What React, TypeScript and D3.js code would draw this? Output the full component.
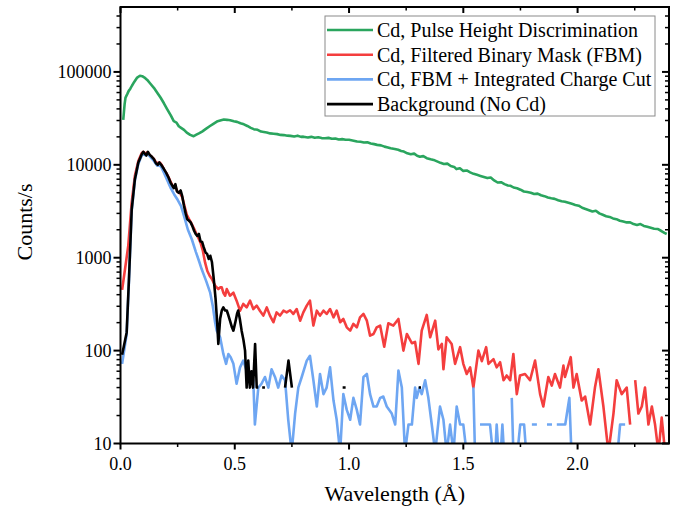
import React from "react";
import * as d3 from "d3";

// Cd, Pulse Height Discrimination
const greenWl = [0.012, 0.018, 0.022, 0.03, 0.036, 0.043, 0.05, 0.06, 0.073, 0.085, 0.095, 0.105, 0.117, 0.13, 0.146, 0.16, 0.175, 0.19, 0.204, 0.22, 0.233, 0.245, 0.255, 0.265, 0.278, 0.29, 0.305, 0.32, 0.33, 0.343, 0.357, 0.372, 0.39, 0.408, 0.425, 0.44, 0.452, 0.466, 0.48, 0.496, 0.51, 0.525, 0.54, 0.555, 0.57, 0.583, 0.6, 0.615, 0.627, 0.64, 0.655, 0.67, 0.686, 0.7, 0.715, 0.73, 0.744, 0.76, 0.775, 0.79, 0.8, 0.82, 0.835, 0.85, 0.865, 0.88, 0.895, 0.91, 0.925, 0.94, 0.955, 0.97, 0.985, 1.0, 1.02, 1.035, 1.05, 1.065, 1.08, 1.095, 1.11, 1.123, 1.14, 1.155, 1.17, 1.182, 1.2, 1.215, 1.228, 1.24, 1.255, 1.27, 1.285, 1.298, 1.31, 1.325, 1.34, 1.357, 1.37, 1.385, 1.4, 1.415, 1.43, 1.445, 1.46, 1.47, 1.485, 1.5, 1.515, 1.53, 1.545, 1.56, 1.575, 1.59, 1.605, 1.62, 1.635, 1.65, 1.665, 1.68, 1.695, 1.707, 1.72, 1.735, 1.75, 1.765, 1.78, 1.795, 1.81, 1.825, 1.84, 1.855, 1.87, 1.885, 1.9, 1.915, 1.93, 1.945, 1.96, 1.975, 1.99, 2.005, 2.02, 2.035, 2.05, 2.065, 2.08, 2.095, 2.11, 2.125, 2.14, 2.155, 2.17, 2.185, 2.2, 2.215, 2.23, 2.245, 2.26, 2.275, 2.29, 2.305, 2.32, 2.335, 2.35, 2.365, 2.38, 2.39];
const greenCounts = [30500, 45000, 53000, 58000, 62500, 66000, 71000, 78000, 87000, 91000, 90000, 87000, 82000, 75000, 67500, 60000, 53000, 46000, 39800, 34000, 29500, 28500, 26000, 25000, 23800, 22200, 21000, 20300, 21000, 21800, 22800, 24200, 26000, 27800, 29500, 30200, 30700, 30500, 30200, 29500, 29000, 28000, 27300, 26200, 25000, 24200, 23800, 22800, 22600, 22300, 21800, 21600, 21400, 21000, 20900, 20600, 20500, 20200, 20600, 20000, 20100, 19700, 20000, 19600, 19800, 19400, 19300, 19500, 19100, 19200, 18700, 18900, 18600, 18600, 18200, 17800, 17700, 17400, 17500, 17000, 16700, 16400, 16200, 15700, 15400, 15100, 14800, 14500, 14100, 13900, 13300, 13000, 13200, 12500, 12200, 12400, 11800, 11500, 11300, 10900, 10500, 10200, 10300, 9700, 9500, 9000, 9200, 8600, 8700, 8300, 8000, 7800, 7600, 7400, 7200, 7300, 6800, 6450, 6500, 6200, 6000, 5950, 5700, 5600, 5400, 5160, 5100, 5000, 4850, 4900, 4700, 4600, 4450, 4370, 4300, 4150, 4050, 4000, 3900, 3800, 3700, 3630, 3450, 3350, 3250, 3150, 3200, 3000, 2900, 2800, 2750, 2650, 2600, 2500, 2450, 2400, 2400, 2300, 2250, 2300, 2200, 2150, 2100, 2050, 2040, 1950, 1850, 1800];

// Cd, Filtered Binary Mask (FBM)
const redWl = [0.007, 0.02, 0.034, 0.049, 0.063, 0.078, 0.093, 0.1, 0.108, 0.117, 0.127, 0.137, 0.146, 0.155, 0.163, 0.172, 0.18, 0.19, 0.2, 0.21, 0.22, 0.23, 0.24, 0.25, 0.26, 0.27, 0.28, 0.29, 0.3, 0.31, 0.32, 0.33, 0.34, 0.35, 0.36, 0.37, 0.38, 0.39, 0.4, 0.414, 0.428, 0.436, 0.443, 0.45, 0.458, 0.465, 0.479, 0.494, 0.508, 0.523, 0.537, 0.552, 0.567, 0.581, 0.596, 0.61, 0.625, 0.64, 0.654, 0.669, 0.683, 0.698, 0.713, 0.727, 0.742, 0.756, 0.771, 0.786, 0.8, 0.815, 0.829, 0.844, 0.859, 0.873, 0.888, 0.902, 0.917, 0.932, 0.946, 0.961, 0.975, 0.99, 1.005, 1.019, 1.034, 1.048, 1.063, 1.078, 1.092, 1.107, 1.121, 1.136, 1.154, 1.172, 1.194, 1.216, 1.238, 1.253, 1.275, 1.289, 1.304, 1.318, 1.34, 1.355, 1.377, 1.391, 1.406, 1.413, 1.427, 1.449, 1.464, 1.486, 1.5, 1.515, 1.53, 1.544, 1.566, 1.581, 1.6, 1.61, 1.632, 1.646, 1.661, 1.676, 1.69, 1.705, 1.719, 1.734, 1.748, 1.77, 1.792, 1.814, 1.836, 1.85, 1.872, 1.887, 1.901, 1.923, 1.938, 1.945, 1.97, 1.982, 1.996, 2.018, 2.033, 2.055, 2.076, 2.091, 2.113, 2.135, 2.157, 2.171, 2.193, 2.215, 2.23, 2.241, 2.252, 2.266, 2.281, 2.295, 2.31, 2.325, 2.339, 2.354, 2.368, 2.383];
const redCounts = [450, 760, 1350, 3950, 7600, 11000, 13400, 13800, 13200, 13600, 12700, 12200, 11600, 10600, 10400, 10600, 10000, 9000, 8200, 7400, 6500, 5800, 5800, 5100, 5000, 4500, 3600, 2900, 2600, 2350, 2100, 1850, 1650, 1450, 1200, 890, 720, 640, 590, 500, 460, 479, 480, 420, 390, 460, 390, 420, 345, 269, 318, 292, 345, 280, 305, 269, 238, 292, 238, 202, 258, 238, 269, 258, 272, 248, 280, 210, 258, 305, 345, 186, 269, 238, 269, 248, 280, 228, 269, 202, 219, 178, 164, 194, 178, 228, 248, 210, 145, 151, 178, 186, 110, 197, 186, 219, 100, 151, 120, 124, 72, 164, 242, 139, 210, 103, 118, 63, 139, 118, 72, 109, 72, 56, 66, 40, 100, 77, 109, 72, 81, 66, 75, 48, 54, 48, 92, 34, 54, 56, 48, 78, 34, 25, 52, 42, 56, 40, 69, 52, 85, 40, 56, 29, 32, 16, 40, 63, 25, 8, 21, 48, 34, 40, 16, null, 48, 21, 25, 40, 16, 25, 16, 8, 19, 8];

// Cd, FBM + Integrated Charge Cut
const blueWl = [0.007, 0.027, 0.037, 0.049, 0.063, 0.078, 0.093, 0.1, 0.11, 0.12, 0.13, 0.146, 0.16, 0.17, 0.18, 0.19, 0.205, 0.22, 0.235, 0.25, 0.265, 0.28, 0.295, 0.312, 0.33, 0.345, 0.355, 0.375, 0.392, 0.404, 0.414, 0.421, 0.436, 0.45, 0.462, 0.472, 0.482, 0.494, 0.508, 0.523, 0.537, 0.552, 0.567, 0.581, 0.588, 0.603, 0.617, 0.632, 0.647, 0.661, 0.676, 0.69, 0.705, 0.72, 0.734, 0.749, 0.764, 0.778, 0.793, 0.815, 0.829, 0.844, 0.859, 0.873, 0.888, 0.902, 0.917, 0.932, 0.946, 0.961, 0.975, 0.99, 1.005, 1.019, 1.034, 1.048, 1.063, 1.078, 1.092, 1.107, 1.121, 1.136, 1.15, 1.165, 1.187, 1.202, 1.216, 1.231, 1.245, 1.26, 1.275, 1.289, 1.296, 1.308, 1.318, 1.333, 1.347, 1.362, 1.377, 1.398, 1.413, 1.427, 1.442, 1.457, 1.471, 1.486, 1.5, 1.514, 1.52, 1.544, 1.551, 1.562, 1.573, 1.595, 1.617, 1.629, 1.635, 1.64, 1.646, 1.654, 1.659, 1.664, 1.671, 1.678, 1.69, 1.712, 1.719, 1.728, 1.737, 1.749, 1.766, 1.775, 1.788, 1.8, 1.822, 1.844, 1.866, 1.888, 1.898, 1.909, 1.946, 1.964, 1.973, 2.07, 2.175, 2.186, 2.208];
const blueCounts = [72, 150, 560, 3200, 6800, 10300, 12600, 13000, 12700, 13000, 12200, 11000, 9800, 9900, 9300, 8200, 6800, 5600, 4800, 4200, 3600, 2700, 2000, 1580, 1150, 900, 755, 560, 424, 300, 201, 164, 139, 92, 72, 92, 85, 72, 44, 66, 78, 61, 56, 48, 16, 40, 44, 52, 40, 63, 52, 40, 54, 48, 18, 8, 21, 40, 52, 78, 88, 48, 25, 56, 34, 40, 66, 29, 18, 8, 34, 23, 18, 31, 23, 16, 52, 56, 34, 25, 25, 31, 32, 25, 21, 16, 61, 40, 8, 16, 16, 40, 31, 40, 34, 48, 31, 16, 8, 25, 18, 8, 16, 8, 25, 16, 16, 8, null, 40, 8, null, 16, 16, 16, 8, null, 8, 16, 8, null, 8, 16, 8, null, 31, 8, null, 8, 16, 16, 8, null, 16, 16, null, 16, 16, null, 16, 16, 31, 8, null, 8, 16, 16];

// Background (No Cd)
const blackWl = [0.007, 0.027, 0.037, 0.049, 0.063, 0.078, 0.093, 0.1, 0.106, 0.113, 0.12, 0.128, 0.137, 0.146, 0.155, 0.163, 0.17, 0.178, 0.19, 0.2, 0.21, 0.219, 0.226, 0.233, 0.24, 0.247, 0.255, 0.263, 0.27, 0.278, 0.285, 0.292, 0.3, 0.307, 0.314, 0.322, 0.329, 0.336, 0.343, 0.35, 0.357, 0.364, 0.372, 0.379, 0.386, 0.393, 0.4, 0.408, 0.416, 0.423, 0.428, 0.436, 0.443, 0.45, 0.458, 0.465, 0.472, 0.479, 0.487, 0.494, 0.502, 0.51, 0.515, 0.522, 0.53, 0.538, 0.545, 0.552, 0.559, 0.566, 0.573, 0.58, 0.589, 0.596, 0.603, 0.611, 0.62, 0.632, 0.68, 0.72, 0.735, 0.75, 0.86, 0.972, 0.985, 1.1, 1.305, 1.315];
const blackCounts = [90, 157, 590, 3300, 7000, 10600, 13000, 13800, 13200, 12600, 13800, 12800, 12200, 11500, 10400, 10000, 10600, 10000, 9000, 8200, 7300, 6450, 6000, 5600, 6200, 5200, 5000, 5300, 4600, 3600, 3000, 2600, 2500, 2400, 2200, 1950, 1800, 1720, 1800, 1500, 1480, 1300, 1140, 1100, 970, 1050, 900, 590, 360, 200, 118, 220, 269, 292, 270, 270, 240, 210, 180, 164, 200, 250, 270, 220, 164, 130, 100, 40, 78, 40, 60, 40, 118, 40, 40, null, 40, 40, null, 40, 78, 40, null, 40, 40, null, 40, 40];

const seriesNames = [
  "Cd, Pulse Height Discrimination",
  "Cd, Filtered Binary Mask (FBM)",
  "Cd, FBM + Integrated Charge Cut",
  "Background (No Cd)",
];
const seriesColors = ["#2aa55e", "#f43e3e", "#6ea6f2", "#000000"];

const yMajorTicks = [10, 100, 1000, 10000, 100000];
const xMajorTicks = [0, 0.5, 1.0, 1.5, 2.0];
const xMinorTicks = [0.25, 0.75, 1.25, 1.75, 2.25];

const W = 680;
const H = 512;
const left = 120.5;
const right = 669;
const top = 7;
const bottom = 443.5;
const font = "Liberation Serif, Times New Roman, serif";

export default function App() {
  const x = d3.scaleLinear().domain([0, 2.4]).range([left, right]);
  const y = d3.scaleLog().domain([10, 500000]).range([bottom, top]);

  const series = [
    { wl: greenWl, v: greenCounts },
    { wl: redWl, v: redCounts },
    { wl: blueWl, v: blueCounts },
    { wl: blackWl, v: blackCounts },
  ];

  const lineGen = d3
    .line<[number, number | null]>()
    .defined((d) => d[1] != null && d[1] > 0)
    .x((d) => x(d[0]))
    .y((d) => y(d[1] as number));

  const yMinor: number[] = [];
  for (let dec = 10; dec <= 100000; dec *= 10) {
    for (let k = 2; k <= 9; k++) {
      const v = dec * k;
      if (v < 500000) yMinor.push(v);
    }
  }

  const legendX = 325;
  const legendY = 16;
  const rowH = 24.7;
  const txt = { fontFamily: font, fill: "#000" };

  return (
    <svg width={W} height={H} style={{ position: "absolute", left: 0, top: 0, background: "#fff" }}>
      <defs>
        <clipPath id="plot-clip">
          <rect x={left} y={top} width={right - left} height={bottom - top} />
        </clipPath>
      </defs>

      {/* data */}
      <g clipPath="url(#plot-clip)">
        {series.map((s, i) => (
          <path
            key={i}
            d={lineGen(s.wl.map((w, j) => [w, s.v[j]] as [number, number | null])) || ""}
            fill="none"
            stroke={seriesColors[i]}
            strokeWidth={2.6}
            strokeLinejoin="round"
          />
        ))}
      </g>

      {/* frame */}
      <rect x={left} y={top} width={right - left} height={bottom - top} fill="none" stroke="#000" strokeWidth={2} />

      {/* y ticks left (outward) + right (inward) */}
      {yMajorTicks.map((t) => (
        <g key={"ym" + t}>
          <line x1={left - 7} x2={left} y1={y(t)} y2={y(t)} stroke="#000" strokeWidth={2} />
          <line x1={right - 7} x2={right} y1={y(t)} y2={y(t)} stroke="#000" strokeWidth={2} />
          <text x={left - 9} y={y(t)} dy="0.35em" textAnchor="end" style={{ ...txt, fontSize: 18 }}>
            {t}
          </text>
        </g>
      ))}
      {yMinor.map((t) => (
        <g key={"yn" + t}>
          <line x1={left - 4} x2={left} y1={y(t)} y2={y(t)} stroke="#000" strokeWidth={1.5} />
          <line x1={right - 4} x2={right} y1={y(t)} y2={y(t)} stroke="#000" strokeWidth={1.5} />
        </g>
      ))}

      {/* x ticks bottom (outward) + top (inward) */}
      {xMajorTicks.map((t) => (
        <g key={"xm" + t}>
          <line x1={x(t)} x2={x(t)} y1={bottom} y2={bottom + 6} stroke="#000" strokeWidth={2} />
          <line x1={x(t)} x2={x(t)} y1={top} y2={top + 6} stroke="#000" strokeWidth={2} />
          <text x={x(t)} y={bottom + 26} textAnchor="middle" style={{ ...txt, fontSize: 18 }}>
            {d3.format(".1f")(t)}
          </text>
        </g>
      ))}
      {xMinorTicks.map((t) => (
        <g key={"xn" + t}>
          <line x1={x(t)} x2={x(t)} y1={bottom} y2={bottom + 3.5} stroke="#000" strokeWidth={1.5} />
          <line x1={x(t)} x2={x(t)} y1={top} y2={top + 3.5} stroke="#000" strokeWidth={1.5} />
        </g>
      ))}

      {/* axis titles */}
      <text x={(left + right) / 2} y={501} textAnchor="middle" style={{ ...txt, fontSize: 22 }}>
        Wavelength (Å)
      </text>
      <text transform={`translate(32, 222) rotate(-90)`} textAnchor="middle" style={{ ...txt, fontSize: 22 }}>
        Counts/s
      </text>

      {/* legend */}
      <rect x={legendX} y={legendY} width={330} height={100} fill="#fff" stroke="#8a8a8a" strokeWidth={1} />
      {seriesNames.map((name, i) => {
        const cy = legendY + 14 + i * rowH;
        return (
          <g key={name}>
            <line x1={legendX + 2} x2={legendX + 48} y1={cy} y2={cy} stroke={seriesColors[i]} strokeWidth={2.6} />
            <text x={legendX + 52} y={cy} dy="0.35em" style={{ ...txt, fontSize: 20 }}>
              {name}
            </text>
          </g>
        );
      })}
    </svg>
  );
}
